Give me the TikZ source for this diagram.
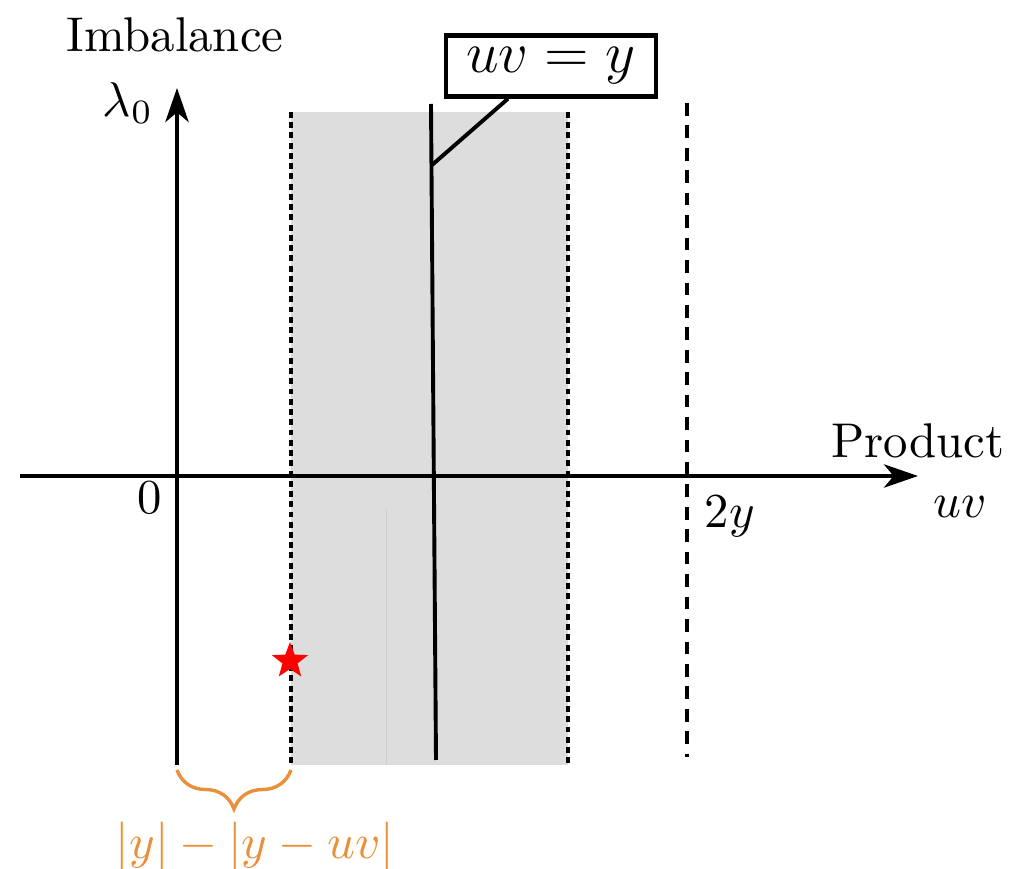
\documentclass[tikz,border=0pt]{standalone}
\usetikzlibrary{arrows.meta,shapes.geometric,decorations.pathreplacing,calc}
\definecolor{bandgray}{HTML}{DDDDDD}
\definecolor{braceor}{HTML}{E8913A}
\begin{document}
\begin{tikzpicture}[x=0.205pt,y=-0.205pt,
  axis/.style={line width=0.7pt,-{Stealth[length=7pt,width=4.8pt,inset=2pt]}},
  dotline/.style={line width=0.7pt,dash pattern=on 1.2pt off 0.9pt},
  dashline/.style={line width=0.7pt,dash pattern=on 2.6pt off 2pt},
  lbl/.style={inner sep=0pt}]
\useasboundingbox (0,0) rectangle (1017,869);
% shaded band
\fill[bandgray] (291,112) rectangle (568,765);
\draw[black!20,line width=0.2pt] (386,510) -- (386,765);
% axes
\coordinate (xs) at (20,476);
\coordinate (xe) at (918,476);
\coordinate (ys) at (177,765);
\coordinate (ye) at (177,88);
\draw[axis] (xs) -- (xe);
\draw[axis] (ys) -- (ye);
% band borders
\coordinate (l1) at (291,112); \coordinate (l2) at (291,765);
\coordinate (r1) at (568,112); \coordinate (r2) at (568,765);
\draw[dotline] (l1) -- (l2);
\draw[dotline] (r1) -- (r2);
% 2y dashed line
\coordinate (d1) at (687,103); \coordinate (d2) at (687,757);
\draw[dashline] (d1) -- (d2);
% uv = y line
\coordinate (s1) at (431,104); \coordinate (s2) at (436,760);
\coordinate (sk) at (432,165);
\draw[line width=0.8pt] (s1) -- (s2);
\node[draw,line width=0.9pt,fill=white,inner sep=2.5pt,minimum width=43pt,minimum height=10.8pt,font=\large] (lab) at (551,66) {$uv = y$};
\draw[line width=0.8pt] ($(lab.south)+(-43,0)$) -- (sk);
% labels
\node[lbl] (imb) at (175,35) {Imbalance};
\node[lbl] (lam) at (128,103) {$\lambda_0$};
\node[lbl] (zero) at (150,498) {$0$};
\node[lbl] (twoy) at (730,517) {$2y$};
\node[lbl] (uv) at (960,507) {$uv$};
\node[lbl] (prod) at (918,441) {Product};
% star
\node[star,star points=5,star point ratio=2.4,fill=red,minimum size=7.8pt,inner sep=0pt] (st) at (290,661) {};
% brace
\coordinate (b1) at (177,770); \coordinate (b2) at (291,770);
\draw[braceor,line width=0.7pt,decorate,decoration={brace,mirror,amplitude=8pt}] (b1) -- (b2);
\node[lbl,text=braceor] (diff) at (255,846) {$|y|-|y-uv|$};
\end{tikzpicture}
\end{document}
